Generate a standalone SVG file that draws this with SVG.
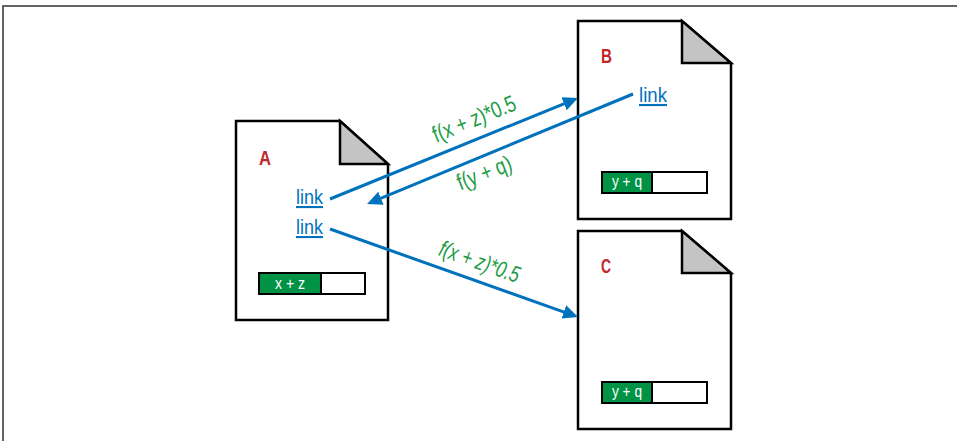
<svg xmlns="http://www.w3.org/2000/svg" width="957" height="441" viewBox="0 0 957 441">
<style>
.doc{fill:#fff;stroke:#000;stroke-width:2.5;stroke-linejoin:miter}
.fold{fill:#c4c4c4;stroke:#000;stroke-width:2.5;stroke-linejoin:miter}
.lbl{font-family:"Liberation Sans",Arial,sans-serif;font-weight:bold;font-size:21px;fill:#c1272d}
.link{font-family:"Liberation Sans",Arial,sans-serif;font-size:21px;fill:#0071bc;text-decoration:underline}
.barg{fill:#009245;stroke:#000;stroke-width:2}
.barw{fill:#fff;stroke:#000;stroke-width:2}
.bart{font-family:"Liberation Sans",Arial,sans-serif;font-size:16px;fill:#fff;text-anchor:middle}
.conn{stroke:#0071bc;stroke-width:3;fill:none}
.elbl{font-family:"Liberation Sans",Arial,sans-serif;font-size:23px;fill:#1a9c45;text-anchor:middle}
</style>
<defs>
<marker id="ah" markerUnits="userSpaceOnUse" markerWidth="18" markerHeight="16" refX="1" refY="7" orient="auto">
<path d="M0,0 L15,7 L0,14 z" fill="#0071bc"/>
</marker>
</defs>
<rect width="957" height="441" fill="#fff"/>
<path d="M3,441 V6 H957" fill="none" stroke="#333" stroke-width="1.5"/>

<g id="docA">
<path class="doc" d="M236,121 H340 L388,164 V320 H236 Z"/>
<path class="fold" d="M340,121 V164 H388 Z"/>
<text class="lbl" x="259" y="165" textLength="12" lengthAdjust="spacingAndGlyphs">A</text>
<text class="link" x="296" y="204" textLength="27" lengthAdjust="spacingAndGlyphs">link</text>
<text class="link" x="296" y="234" textLength="27" lengthAdjust="spacingAndGlyphs">link</text>
<rect class="barw" x="259" y="273" width="106" height="21"/>
<rect class="barg" x="259" y="273" width="62" height="21"/>
<text class="bart" x="290" y="289" textLength="30" lengthAdjust="spacingAndGlyphs">x + z</text>
</g>

<g id="docB">
<path class="doc" d="M578,21 H682 L731,63 V219 H578 Z"/>
<path class="fold" d="M682,21 V63 H731 Z"/>
<text class="lbl" x="601" y="63" textLength="11" lengthAdjust="spacingAndGlyphs">B</text>
<text class="link" x="639" y="102" textLength="28" lengthAdjust="spacingAndGlyphs">link</text>
<rect class="barw" x="602" y="172" width="105" height="21"/>
<rect class="barg" x="602" y="172" width="50" height="21"/>
<text class="bart" x="627" y="187" textLength="30" lengthAdjust="spacingAndGlyphs">y + q</text>
</g>

<g id="docC">
<path class="doc" d="M578,231 H682 L731,273 V429 H578 Z"/>
<path class="fold" d="M682,231 V273 H731 Z"/>
<text class="lbl" x="601" y="273" textLength="10" lengthAdjust="spacingAndGlyphs">C</text>
<rect class="barw" x="602" y="382" width="105" height="21"/>
<rect class="barg" x="602" y="382" width="50" height="21"/>
<text class="bart" x="627" y="397" textLength="30" lengthAdjust="spacingAndGlyphs">y + q</text>
</g>

<g id="connectors">
<line class="conn" x1="330" y1="199" x2="565" y2="103.3" marker-end="url(#ah)"/>
<line class="conn" x1="633" y1="94" x2="380" y2="198.6" marker-end="url(#ah)"/>
<line class="conn" x1="330" y1="229" x2="564.8" y2="312.3" marker-end="url(#ah)"/>
<text class="elbl" transform="translate(477,126) rotate(-22.3)" textLength="88" lengthAdjust="spacingAndGlyphs">f(x + z)*0.5</text>
<text class="elbl" transform="translate(487,180) rotate(-21.5)" textLength="57" lengthAdjust="spacingAndGlyphs">f(y + q)</text>
<text class="elbl" font-style="italic" font-size="21" transform="translate(477,269) rotate(19.5)" textLength="84" lengthAdjust="spacingAndGlyphs">f(x + z)*0.5</text>
</g>
</svg>
